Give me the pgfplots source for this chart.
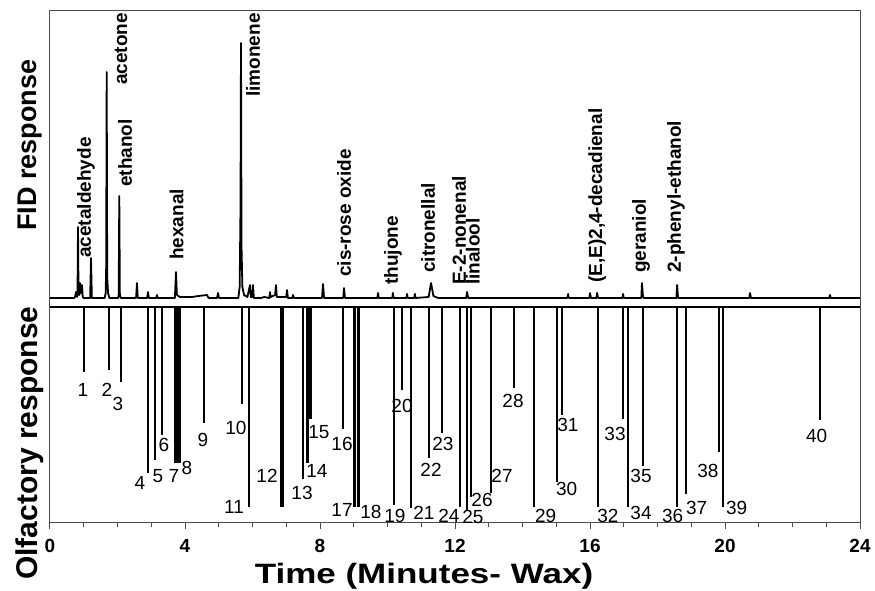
\documentclass[border=0pt]{standalone}
\usepackage{pgfplots}
\pgfplotsset{compat=1.18}
\usepackage{fontspec}
\setmainfont{Liberation Sans}
\usepackage{graphicx}

\begin{document}
\begin{tikzpicture}
\begin{axis}[
    name=a,
    width=810pt, height=512pt, scale only axis,
    xmin=0, xmax=24, ymin=-216, ymax=296,
    xtick={0,4,...,24}, minor x tick num=3,
    ytick=\empty,
    xtick pos=bottom, tick align=outside,
    major tick length=6pt, minor tick length=4pt,
    axis line style={line width=1pt, black!70},
    tick style={line width=1pt, black!70},
    /pgf/number format/assume math mode=true,
    xticklabel style={font=\fontsize{19}{21}\selectfont\bfseries, yshift=-7pt},
    xlabel={\scalebox{1.25}[1]{Time (Minutes- Wax)}},
    xlabel style={font=\fontsize{28}{30}\selectfont\bfseries, at={(axis description cs:0.4617,-0.105)}, anchor=center},
    clip=false,
]
% FID trace
\addplot[black, line width=1.8pt, line join=round] coordinates {
(0,9) (0.72,9) (0.75,11) (0.77,15) (0.80,10) (0.815,12) (0.83,80) (0.845,14) (0.87,12)
(0.889,24) (0.92,14) (0.948,22) (0.97,10) (1.0,9) (1.19,9) (1.215,49) (1.24,9)
(1.62,9) (1.65,14) (1.665,40) (1.68,235) (1.695,30) (1.72,14) (1.76,9)
(2.02,9) (2.035,12) (2.053,111) (2.07,12) (2.10,9) (2.55,9) (2.578,24) (2.60,9)
(2.88,9) (2.904,15) (2.93,9) (3.15,9) (3.17,12) (3.19,9) (3.70,9) (3.733,35) (3.76,12)
(3.85,10) (4.2,10) (4.4,11) (4.65,12) (4.7,9) (4.95,9) (4.978,14) (5.01,9)
(5.58,9) (5.62,20) (5.645,100) (5.659,264) (5.675,60) (5.70,20) (5.75,12) (5.85,10)
(5.926,22) (5.95,10) (5.99,10) (6.015,22) (6.04,9) (6.25,9) (6.35,10) (6.50,9)
(6.519,15) (6.54,10) (6.67,12) (6.696,22) (6.72,10) (7.0,10) (7.022,17) (7.05,9)
(7.18,9) (7.2,12) (7.23,9) (8.06,9) (8.089,23) (8.12,9) (8.69,9) (8.711,19) (8.74,9)
(9.70,9) (9.72,14) (9.74,9) (10.14,9) (10.16,14) (10.18,9) (10.56,9) (10.58,13) (10.6,9)
(10.79,9) (10.81,13) (10.83,9) (11.22,10) (11.29,24) (11.36,11) (11.5,9)
(12.33,9) (12.36,15) (12.39,9) (15.33,9) (15.35,13) (15.37,9) (15.98,9) (16.0,14) (16.03,9)
(16.19,9) (16.21,14) (16.24,9) (16.96,9) (16.98,13) (17.0,9) (17.52,9) (17.54,24)
(17.57,10) (17.6,9) (18.56,9) (18.58,22) (18.61,9) (20.72,9) (20.74,14) (20.77,9)
(23.09,9) (23.11,12) (23.13,9) (24,9)
};
% separator between panels
\draw[line width=2.6pt] (axis cs:0,0) -- (axis cs:24,0);

% olfactory responses
\addplot[ycomb, black, line width=2.2pt] coordinates {
(1.007,-65) (1.757,-63) (2.104,-75) (2.913,-166) (3.111,-153) (3.310,-128)
(4.563,-116) (5.680,-97) (5.896,-200) (7.487,-172) (7.630,-156)
(8.672,-122) (10.201,-198) (10.42,-83) (10.696,-201) (11.238,-151) (11.606,-126)
(12.157,-200) (12.346,-203) (12.474,-190) (13.067,-186) (13.748,-81) (14.35,-200)
(15.013,-175) (15.161,-108) (16.228,-200) (16.969,-112) (17.135,-200) (17.561,-159)
(18.587,-200) (18.836,-187) (19.813,-145) (19.95,-200) (22.815,-113)
};
\addplot[ycomb, black, line width=3.6pt] coordinates {
(3.733,-156) (3.822,-156) (6.874,-200) (7.704,-112) (9.022,-200) (9.141,-200)
};

% olfactory numbers
\begin{scope}[every node/.style={font=\fontsize{19}{21}\selectfont, inner sep=0pt}]
\node at (axis cs:0.978,-83) {1};
\node at (axis cs:1.689,-83) {2};
\node at (axis cs:2.015,-97) {3};
\node at (axis cs:2.667,-176) {4};
\node at (axis cs:3.2,-169) {5};
\node at (axis cs:3.378,-138) {6};
\node at (axis cs:3.674,-169) {7};
\node at (axis cs:4.059,-161) {8};
\node at (axis cs:4.533,-133) {9};
\node at (axis cs:5.511,-121) {10};
\node at (axis cs:5.452,-200) {11};
\node at (axis cs:6.43,-169) {12};
\node at (axis cs:7.467,-186) {13};
\node at (axis cs:7.911,-164) {14};
\node at (axis cs:7.970,-125) {15};
\node at (axis cs:8.652,-137) {16};
\node at (axis cs:8.652,-203) {17};
\node at (axis cs:9.511,-205) {18};
\node at (axis cs:10.222,-209) {19};
\node at (axis cs:10.43,-99) {20};
\node at (axis cs:11.081,-206) {21};
\node at (axis cs:11.289,-163) {22};
\node at (axis cs:11.644,-137) {23};
\node at (axis cs:11.822,-209) {24};
\node at (axis cs:12.533,-210) {25};
\node at (axis cs:12.8,-193) {26};
\node at (axis cs:13.393,-169) {27};
\node at (axis cs:13.719,-94) {28};
\node at (axis cs:14.687,-209) {29};
\node at (axis cs:15.309,-182) {30};
\node at (axis cs:15.348,-118) {31};
\node at (axis cs:16.533,-209) {32};
\node at (axis cs:16.741,-127) {33};
\node at (axis cs:17.511,-206) {34};
\node at (axis cs:17.511,-169) {35};
\node at (axis cs:18.45,-209) {36};
\node at (axis cs:19.161,-201) {37};
\node at (axis cs:19.496,-164) {38};
\node at (axis cs:20.346,-201) {39};
\node at (axis cs:22.716,-129) {40};
\end{scope}

% compound names
\begin{scope}[every node/.style={font=\fontsize{19}{21}\selectfont\bfseries, rotate=90, anchor=west, inner sep=0pt}]
\node at (axis cs:1.067,49) {acetaldehyde};
\node at (axis cs:2.104,222) {acetone};
\node at (axis cs:2.222,120) {ethanol};
\node at (axis cs:3.748,47) {hexanal};
\node at (axis cs:6.015,210) {limonene};
\node at (axis cs:8.711,30) {cis-rose oxide};
\node at (axis cs:10.163,22) {thujone};
\node at (axis cs:11.2,34) {citronellal};
\node at (axis cs:12.12,22) {E-2-nonenal};
\node at (axis cs:12.53,22) {linalool};
\node at (axis cs:16.21,24) {(E,E)2,4-decadienal};
\node at (axis cs:17.51,34) {geraniol};
\node at (axis cs:18.55,34) {2-phenyl-ethanol};
\end{scope}

% panel titles
\node[rotate=90, font=\fontsize{27}{29}\selectfont\bfseries] at (axis cs:-0.593,162) {FID response};
\node[rotate=90, font=\fontsize{30}{32}\selectfont\bfseries] at (axis cs:-0.593,-136) {Olfactory response};
\end{axis}
\pgfresetboundingbox
\path ([xshift=-50pt,yshift=-68pt]a.south west) rectangle ([xshift=15pt,yshift=11pt]a.north east);
\end{tikzpicture}
\end{document}
